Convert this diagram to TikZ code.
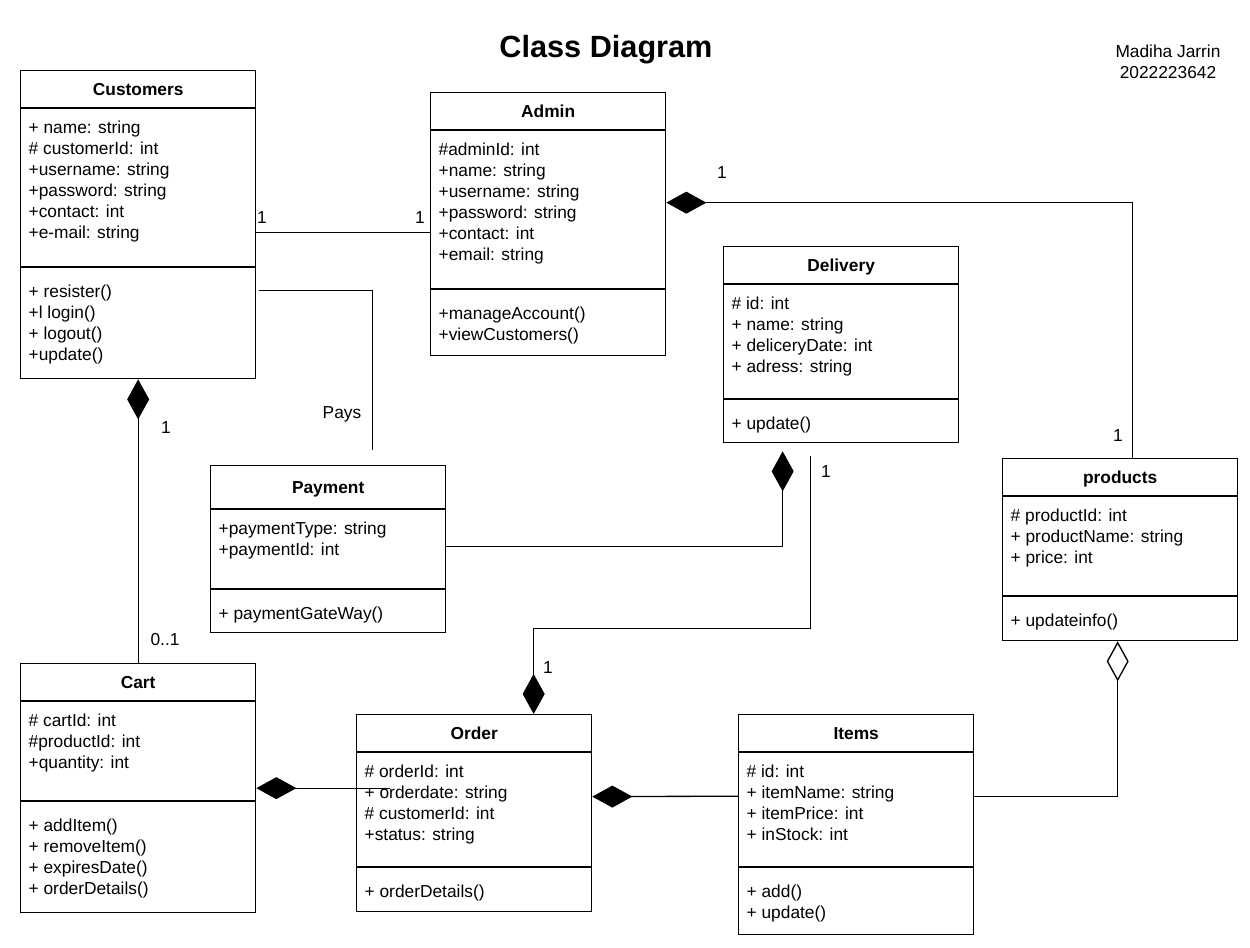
\documentclass[tikz,border=0pt]{standalone}
\usepackage{fontspec}
\setmainfont{Liberation Sans}
\usetikzlibrary{positioning,arrows.meta,calc}

% name, x, y, height, header, divider, title, attributes, operations
\newcommand{\umlclass}[9]{%
  \node[classbox, minimum height=#4*0.75pt] (#1) at (#2,#3) {};
  \node[classname] (#1-name) at ($(#1.north)+(0,#5/2)$) {#7};
  \draw ($(#1.north west)+(0,#5)$) -- ($(#1.north east)+(0,#5)$);
  \node[members] (#1-attr) at ($(#1.north west)+(8,#5+10)$) {\strut#8};
  \draw ($(#1.north west)+(0,#6)$) -- ($(#1.north east)+(0,#6)$);
  \node[members] (#1-ops) at ($(#1.north west)+(8,#6+15)$) {\strut#9};
}

\begin{document}
\begin{tikzpicture}[x=0.75pt, y=-0.75pt, line width=1pt,
font=\fontsize{13}{15.75}\selectfont,
classbox/.style={draw, anchor=north west, minimum width=176.25pt, inner sep=0},
classname/.style={font=\fontsize{13}{15.75}\selectfont\bfseries, text height=10pt, text depth=0.7pt, inner sep=0},
members/.style={anchor=north west, align=left, inner sep=0},
mult/.style={inner sep=0},
comp/.style={arrows={Diamond[length=30pt,width=16.5pt]-}},
agg/.style={arrows={Diamond[open,length=30pt,width=16.5pt]-}}
]
\useasboundingbox (0,0) rectangle (1250,948);

\node[font=\fontsize{23}{27}\selectfont\bfseries] (title) at (606,50) {Class Diagram};
\node[align=center] (author) at (1168,62) {Madiha Jarrin\\2022223642};

\umlclass{Customers}{20}{70}{308}{38}{197}{Customers}{+ name: string\\\# customerId: int\\+username: string\\+password: string\\+contact: int\\+e-mail: string}{+ resister()\\+l login()\\+ logout()\\+update()}
\umlclass{Admin}{430}{92}{263}{38}{197}{Admin}{\#adminId: int\\+name: string\\+username: string\\+password: string\\+contact: int\\+email: string}{+manageAccount()\\+viewCustomers()}
\umlclass{Delivery}{723}{246}{196}{38}{153}{Delivery}{\# id: int\\+ name: string\\+ deliceryDate: int\\+ adress: string}{+ update()}
\umlclass{products}{1002}{458}{182}{38}{138}{products}{\# productId: int\\+ productName: string\\+ price: int}{+ updateinfo()}
\umlclass{Payment}{210}{465}{167}{44}{124}{Payment}{+paymentType: string\\+paymentId: int}{+ paymentGateWay()}
\umlclass{Cart}{20}{663}{249}{38}{138}{Cart}{\# cartId: int\\\#productId: int\\+quantity: int}{+ addItem()\\+ removeItem()\\+ expiresDate()\\+ orderDetails()}
\umlclass{Order}{356}{714}{197}{38}{153}{Order}{\# orderId: int\\+ orderdate: string\\\# customerId: int\\+status: string}{+ orderDetails()}
\umlclass{Items}{738}{714}{220}{38}{153}{Items}{\# id: int\\+ itemName: string\\+ itemPrice: int\\+ inStock: int}{+ add()\\+ update()}

\draw ($(Customers.east)+(0,8)$) -- ($(Admin.west)+(0,8.5)$);
\draw ($(Customers.east)+(3,66)$) -| ($(Payment.north)+(44.5,-15)$);
\draw[comp] (Customers.south) -- (Cart.north);
\draw[comp] ($(Admin.east)+(0,-21.5)$) -| ($(products.north)+(12.5,0)$);
\draw[comp] ($(Delivery.south)+(-58.5,8)$) |- ($(Payment.east)+(0,-2.5)$);
\draw[comp] ($(Order.north)+(59.5,0)$) |- ($(Delivery.south)+(-30.5,185)$) -- ($(Delivery.south)+(-30.5,13)$);
\draw[comp] (Cart.east) -- ($(Order.west)+(34,-25)$);
\draw[comp] ($(Order.east)+(0,-16.5)$) -- ($(Items.west)+(0,-28.5)$);
\draw[agg] ($(products.south)+(-2.5,0)$) |- ($(Items.east)+(0,-28.5)$);

\node[mult] (m1) at (262,218) {1};
\node[mult] (m2) at (420,218) {1};
\node[mult] (m3) at (166,428) {1};
\node[mult] (m4) at (165,640) {0..1};
\node[mult] (pays) at (342,414) {Pays};
\node[mult] (m5) at (722,173) {1};
\node[mult] (m6) at (1118,436) {1};
\node[mult] (m7) at (826,472) {1};
\node[mult] (m8) at (548,668) {1};

\end{tikzpicture}
\end{document}
